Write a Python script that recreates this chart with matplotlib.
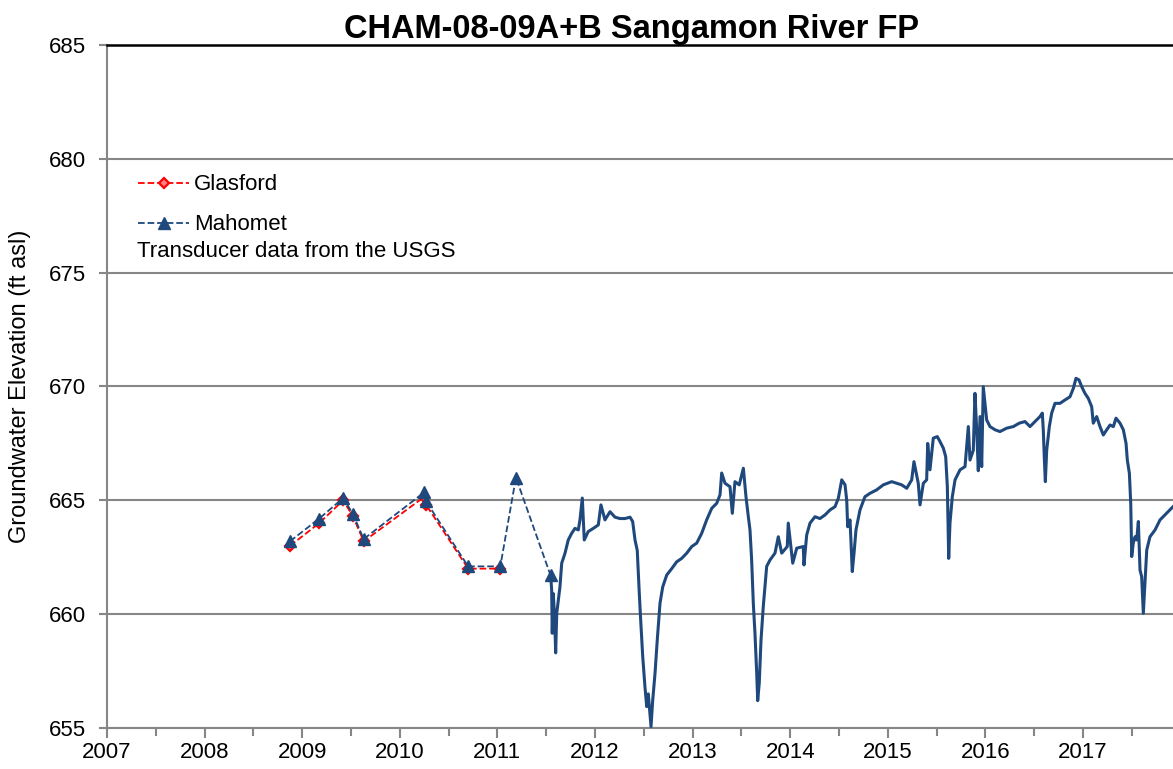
import matplotlib.pyplot as plt
from matplotlib.ticker import MultipleLocator

plt.rcParams['font.family'] = ['Liberation Sans', 'DejaVu Sans']

# Dados manuais (anos decimais)
glasford_t = [2008.875, 2009.175, 2009.42, 2009.52, 2009.63, 2010.25, 2010.27, 2010.70, 2011.03]
glasford_v = [663.0, 664.0, 665.0, 664.3, 663.2, 665.15, 664.8, 662.0, 662.0]

mahomet_t = [2008.875, 2009.175, 2009.42, 2009.52, 2009.63, 2010.25, 2010.27, 2010.70, 2011.03,
             2011.19, 2011.545]
mahomet_v = [663.2, 664.2, 665.1, 664.4, 663.3, 665.35, 664.95, 662.1, 662.1, 666.0, 661.7]

# Transdutor USGS
usgs_t = [2011.549, 2011.556, 2011.562, 2011.573, 2011.587, 2011.597, 2011.608, 2011.624, 2011.641,
          2011.659, 2011.693, 2011.726, 2011.761, 2011.795, 2011.829, 2011.846, 2011.870, 2011.890,
          2011.931, 2011.983, 2012.034, 2012.061, 2012.102, 2012.154, 2012.205, 2012.256, 2012.307,
          2012.359, 2012.386, 2012.410, 2012.433, 2012.454, 2012.468, 2012.489, 2012.512, 2012.530,
          2012.546, 2012.574, 2012.591, 2012.615, 2012.638, 2012.666, 2012.694, 2012.735, 2012.786,
          2012.837, 2012.888, 2012.940, 2012.991, 2013.042, 2013.093, 2013.144, 2013.196, 2013.247,
          2013.281, 2013.298, 2013.332, 2013.383, 2013.407, 2013.434, 2013.478, 2013.520, 2013.547,
          2013.571, 2013.588, 2013.605, 2013.622, 2013.639, 2013.657, 2013.667, 2013.683, 2013.701,
          2013.724, 2013.759, 2013.793, 2013.844, 2013.878, 2013.913, 2013.970, 2013.980, 2014.026,
          2014.067, 2014.134, 2014.141, 2014.169, 2014.203, 2014.254, 2014.305, 2014.357, 2014.408,
          2014.459, 2014.493, 2014.528, 2014.562, 2014.579, 2014.589, 2014.613, 2014.636, 2014.654,
          2014.674, 2014.715, 2014.766, 2014.818, 2014.886, 2014.954, 2015.040, 2015.091, 2015.142,
          2015.194, 2015.245, 2015.268, 2015.312, 2015.330, 2015.364, 2015.398, 2015.409, 2015.432,
          2015.466, 2015.507, 2015.535, 2015.569, 2015.593, 2015.610, 2015.624, 2015.637, 2015.661,
          2015.689, 2015.740, 2015.791, 2015.825, 2015.842, 2015.876, 2015.893, 2015.911, 2015.927,
          2015.945, 2015.962, 2015.978, 2015.996, 2016.013, 2016.047, 2016.098, 2016.149, 2016.218,
          2016.286, 2016.347, 2016.406, 2016.457, 2016.508, 2016.559, 2016.583, 2016.593, 2016.603,
          2016.614, 2016.628, 2016.655, 2016.679, 2016.713, 2016.764, 2016.816, 2016.867, 2016.901,
          2016.928, 2016.959, 2016.987, 2017.020, 2017.054, 2017.089, 2017.105, 2017.140, 2017.174,
          2017.208, 2017.243, 2017.277, 2017.311, 2017.338, 2017.379, 2017.413, 2017.441, 2017.454,
          2017.475, 2017.489, 2017.499, 2017.515, 2017.533, 2017.550, 2017.567, 2017.584, 2017.601,
          2017.618, 2017.635, 2017.653, 2017.686, 2017.738, 2017.789, 2017.840, 2017.891, 2017.922]
usgs_v = [661.5, 661.07, 659.16, 660.9, 659.75, 658.3, 660.04, 660.6, 661.2,
          662.24, 662.68, 663.26, 663.55, 663.77, 663.7, 664.14, 665.1, 663.26,
          663.63, 663.77, 663.92, 664.8, 664.14, 664.5, 664.26, 664.2, 664.2,
          664.26, 664.07, 663.26, 662.8, 660.9, 659.75, 658.14, 656.8, 655.94,
          656.5, 655.06, 656.2, 657.4, 658.87, 660.48, 661.2, 661.72, 662.0,
          662.3, 662.45, 662.68, 662.97, 663.12, 663.55, 664.14, 664.65, 664.87,
          665.24, 666.2, 665.75, 665.6, 664.43, 665.82, 665.68, 666.41, 665.16,
          664.28, 663.7, 662.38, 660.48, 659.16, 657.4, 656.2, 656.97, 658.87,
          660.33, 662.1, 662.38, 662.68, 663.4, 662.68, 662.97, 664.0, 662.24,
          662.9, 662.97, 662.16, 663.48, 664.0, 664.28, 664.2, 664.36, 664.58,
          664.72, 665.09, 665.9, 665.68, 665.0, 663.84, 664.14, 661.87, 662.68,
          663.7, 664.58, 665.16, 665.31, 665.46, 665.68, 665.82, 665.75, 665.68,
          665.53, 665.9, 666.7, 665.75, 664.8, 665.75, 665.9, 667.5, 666.34,
          667.73, 667.8, 667.58, 667.29, 666.92, 665.6, 662.45, 664.0, 665.16,
          665.9, 666.34, 666.48, 668.24, 666.77, 667.2, 669.7, 668.1, 666.3,
          668.68, 666.48, 669.99, 669.26, 668.53, 668.24, 668.1, 668.02, 668.17,
          668.24, 668.39, 668.46, 668.24, 668.46, 668.68, 668.83, 668.1, 666.92,
          665.82, 667.2, 668.24, 668.83, 669.26, 669.26, 669.41, 669.55, 669.92,
          670.36, 670.29, 669.99, 669.7, 669.48, 669.11, 668.39, 668.68, 668.24,
          667.87, 668.1, 668.31, 668.24, 668.61, 668.39, 668.1, 667.5, 666.77,
          666.19, 664.87, 662.53, 663.12, 663.4, 663.26, 664.07, 661.94, 661.65,
          660.04, 661.36, 662.82, 663.4, 663.7, 664.14, 664.36, 664.58, 664.72]

azul = '#1F497D'
cinza = '#868686'

fig = plt.figure(figsize=(11.73, 7.69), dpi=100)
ax = fig.add_axes([0.0912, 0.0533, 0.9088, 0.8882])

ax.plot(glasford_t, glasford_v, color='red', linestyle='--', linewidth=1.3, marker='D',
        markersize=5, markerfacecolor='#ff8080', markeredgecolor='red', markeredgewidth=1.6,
        label='Glasford', zorder=3)
ax.plot(mahomet_t, mahomet_v, color=azul, linestyle='--', linewidth=1.3, marker='^',
        markersize=8, markerfacecolor=azul, markeredgecolor=azul, label='Mahomet', zorder=4)
ax.plot(usgs_t, usgs_v, color=azul, linewidth=2.2, zorder=4)

ax.set_xlim(2007, 2017.922)
ax.set_ylim(655, 685)
ax.xaxis.set_major_locator(MultipleLocator(1))
ax.xaxis.set_minor_locator(MultipleLocator(0.5))
ax.yaxis.set_major_locator(MultipleLocator(5))
ax.xaxis.set_major_formatter(plt.FuncFormatter(lambda v, p: '%d' % v))

ax.grid(True, axis='y', color=cinza, linewidth=1.5)
ax.set_axisbelow(True)
ax.spines['right'].set_visible(False)
ax.spines['top'].set_color('black')
ax.spines['top'].set_linewidth(1.8)
ax.spines['left'].set_color(cinza)
ax.spines['bottom'].set_color(cinza)
ax.spines['left'].set_linewidth(1.5)
ax.spines['bottom'].set_linewidth(1.5)
ax.tick_params(axis='both', which='both', direction='out', color=cinza, width=1.5, labelsize=16)
ax.tick_params(axis='x', which='major', length=7, pad=3)
ax.tick_params(axis='x', which='minor', length=6)
ax.tick_params(axis='y', length=6, pad=9)

ax.set_ylabel('Groundwater Elevation (ft asl)', fontsize=17, labelpad=13)
ax.set_title('CHAM-08-09A+B Sangamon River FP', fontsize=23.5, fontweight='bold', pad=5, x=0.492)

ax.legend(loc='upper left', bbox_to_anchor=(0.0085, 0.843), frameon=False, fontsize=16,
          handlelength=2.3, handletextpad=0.2, labelspacing=0.85, borderaxespad=0.6)
ax.text(0.028, 0.697, 'Transducer data from the USGS', transform=ax.transAxes,
        fontsize=16, va='center', ha='left')

plt.savefig('out.png', dpi=100)
